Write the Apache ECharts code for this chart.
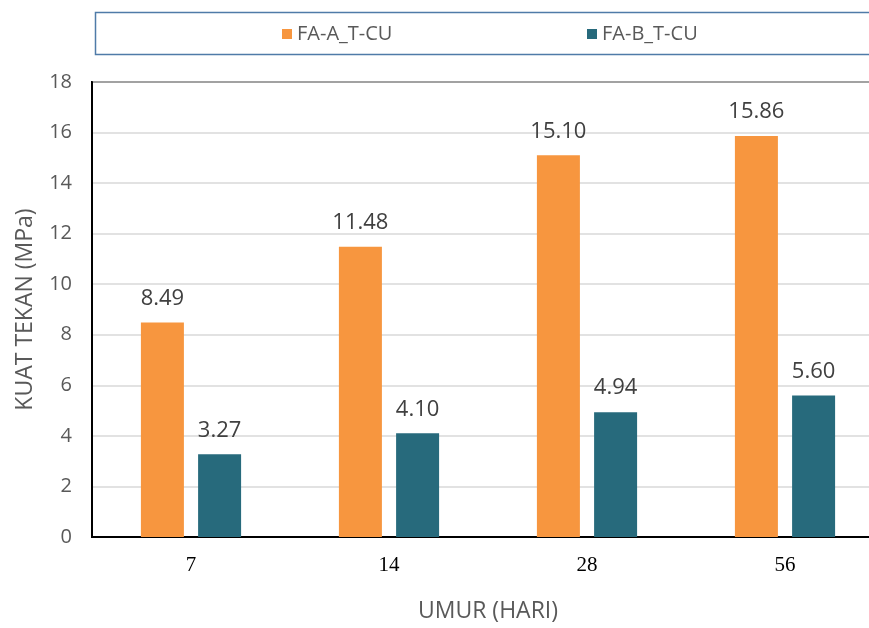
<!DOCTYPE html>
<html><head><meta charset="utf-8">
<script src="https://cdn.jsdelivr.net/npm/echarts@6/dist/echarts.min.js"></script>
<style>html,body{margin:0;padding:0;background:#fff;overflow:hidden;width:869px;height:628px}#c{width:900px;height:628px}</style>
</head><body><div id="c"></div>
<script>
const categories = ['7', '14', '28', '56'];
const seriesA = [8.49, 11.48, 15.10, 15.86];
const seriesB = [3.27, 4.10, 4.94, 5.60];
const nameA = 'FA-A_T-CU';
const nameB = 'FA-B_T-CU';
const yTicks = {min: 0, max: 18, interval: 2};

const chart = echarts.init(document.getElementById('c'), null, {renderer: 'canvas'});
const sans = '"Open Sans",sans-serif';
const legendText = {fontFamily: sans, fontSize: 20, color: '#595959'};
const labelStyle = {show: true, position: 'top', distance: 13, formatter: p => p.value.toFixed(2), fontFamily: sans, fontSize: 22, color: '#404040'};
chart.setOption({
  animation: false,
  backgroundColor: '#fff',
  graphic: [{type: 'rect', left: 93, top: 10, shape: {width: 820, height: 42}, style: {fill: 'none', stroke: '#4f7ba8', lineWidth: 1.5}, silent: true}],
  legend: [
    {data: [nameA], left: 277, top: 19, itemWidth: 10, itemHeight: 10, icon: 'rect', textStyle: legendText},
    {data: [nameB], left: 582, top: 19, itemWidth: 10, itemHeight: 10, icon: 'rect', textStyle: legendText}
  ],
  grid: {left: 92, top: 82, width: 792, height: 455, show: true, borderColor: '#000', borderWidth: 2},
  xAxis: {
    type: 'category', data: categories,
    axisLine: {lineStyle: {color: '#000', width: 2}},
    axisTick: {show: false},
    axisLabel: {fontFamily: '"Liberation Serif","DejaVu Serif",serif', fontSize: 21, color: '#000', margin: 18},
    name: 'UMUR (HARI)', nameLocation: 'middle', nameGap: 63,
    nameTextStyle: {fontFamily: sans, fontSize: 23, color: '#595959'}
  },
  yAxis: {
    type: 'value', min: yTicks.min, max: yTicks.max, interval: yTicks.interval,
    axisLine: {show: true, lineStyle: {color: '#000', width: 2}},
    axisTick: {show: false},
    splitLine: {lineStyle: {color: '#d9d9d9', width: 1.5}},
    axisLabel: {fontFamily: sans, fontSize: 20, color: '#595959', margin: 20},
    name: 'KUAT TEKAN (MPa)', nameLocation: 'middle', nameGap: 55, nameRotate: 90,
    nameTextStyle: {fontFamily: sans, fontSize: 23, color: '#595959'}
  },
  series: [
    {name: nameA, type: 'bar', data: seriesA, barWidth: 43, barGap: '33%',
     itemStyle: {color: '#F7963F'}, label: labelStyle},
    {name: nameB, type: 'bar', data: seriesB, barWidth: 43,
     itemStyle: {color: '#276A7C'}, label: labelStyle}
  ]
});
</script></body></html>
